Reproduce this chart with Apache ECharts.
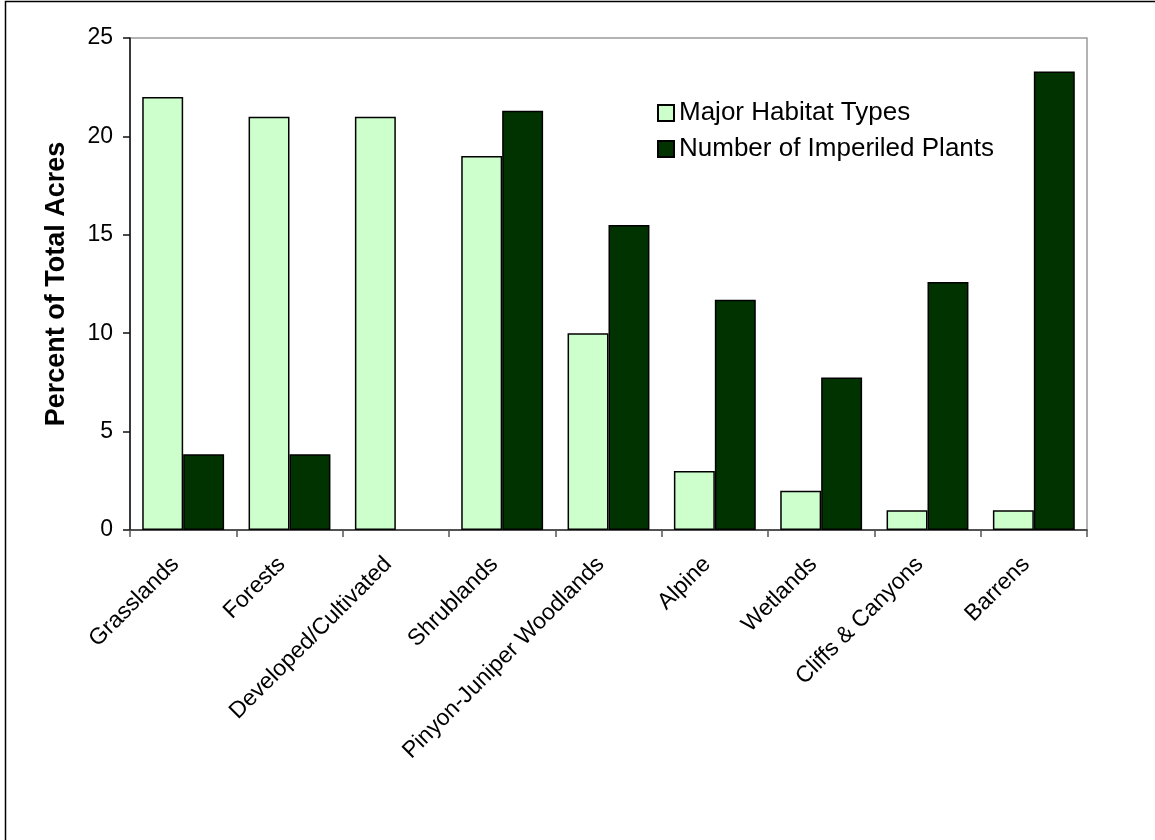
<!DOCTYPE html>
<html>
<head>
<meta charset="utf-8">
<script src="https://cdn.jsdelivr.net/npm/echarts@6/dist/echarts.min.js"></script>
<style>
html,body{margin:0;padding:0;background:#fff;}
#c{width:1155px;height:840px;}
</style>
</head>
<body>
<div id="c"></div>
<script>
const categories = ['Grasslands','Forests','Developed/Cultivated','Shrublands','Pinyon-Juniper Woodlands','Alpine','Wetlands','Cliffs & Canyons','Barrens'];
const habitatTypes = [22, 21, 21, 19, 10, 3, 2, 1, 1];
const imperiledPlants = [3.85, 3.85, 0, 21.3, 15.5, 11.7, 7.75, 12.6, 23.3];
const yTicks = [0, 5, 10, 15, 20, 25];

const chart = echarts.init(document.getElementById('c'), null, {renderer:'canvas'});
const font = 'Liberation Sans, Arial, sans-serif';
chart.setOption({
  animation: false,
  backgroundColor: '#fff',
  textStyle: {fontFamily: font},
  graphic: [{
    type: 'rect',
    shape: {x: 5.5, y: 1.5, width: 1200, height: 900},
    style: {fill: 'none', stroke: '#000', lineWidth: 1.5},
    silent: true
  }],
  grid: {
    left: 130, right: 68, top: 38, bottom: 310,
    show: true, borderColor: '#9a9a9a', borderWidth: 1.5, backgroundColor: '#fff'
  },
  legend: {
    orient: 'vertical',
    left: 652, top: 95,
    itemWidth: 16, itemHeight: 16, itemGap: 10,
    icon: 'rect',
    textStyle: {fontSize: 26, color: '#000', fontFamily: font, lineHeight: 26, padding: [0,0,0,0]},
    data: ['Major Habitat Types', 'Number of Imperiled Plants']
  },
  xAxis: {
    type: 'category',
    data: categories,
    axisLine: {show: true, lineStyle: {color: '#333', width: 1.5}},
    axisTick: {show: true, length: 7, inside: false, lineStyle: {color: '#555', width: 1.5}},
    axisLabel: {rotate: 45, fontSize: 23, color: '#000', margin: 23, padding: [0, 11, 0, 0], interval: 0, fontFamily: font},
    splitLine: {show: false}
  },
  yAxis: {
    type: 'value',
    min: 0, max: 25, interval: 5,
    name: 'Percent of Total Acres',
    nameLocation: 'middle',
    nameGap: 60,
    nameTextStyle: {fontSize: 27, fontWeight: 'bold', color: '#000', fontFamily: font},
    axisLine: {show: true, lineStyle: {color: '#111', width: 1.5}},
    axisTick: {show: true, length: 7, lineStyle: {color: '#111', width: 1.5}},
    axisLabel: {fontSize: 23, color: '#000', margin: 17, fontFamily: font,
      formatter: function(v){ return yTicks.indexOf(v) >= 0 ? String(v) : ''; }},
    splitLine: {show: false}
  },
  series: [{
    name: 'Major Habitat Types',
    type: 'bar',
    data: habitatTypes,
    barGap: '0%',
    barCategoryGap: '23%',
    itemStyle: {color: '#CCFFCC', borderColor: '#000', borderWidth: 1.5}
  },{
    name: 'Number of Imperiled Plants',
    type: 'bar',
    data: imperiledPlants.map(function(v){ return v === 0 ? {value: v, itemStyle: {borderWidth: 0}} : v; }),
    barGap: '0%',
    barCategoryGap: '23%',
    itemStyle: {color: '#003300', borderColor: '#000', borderWidth: 1.5}
  }]
});
</script>
</body>
</html>
